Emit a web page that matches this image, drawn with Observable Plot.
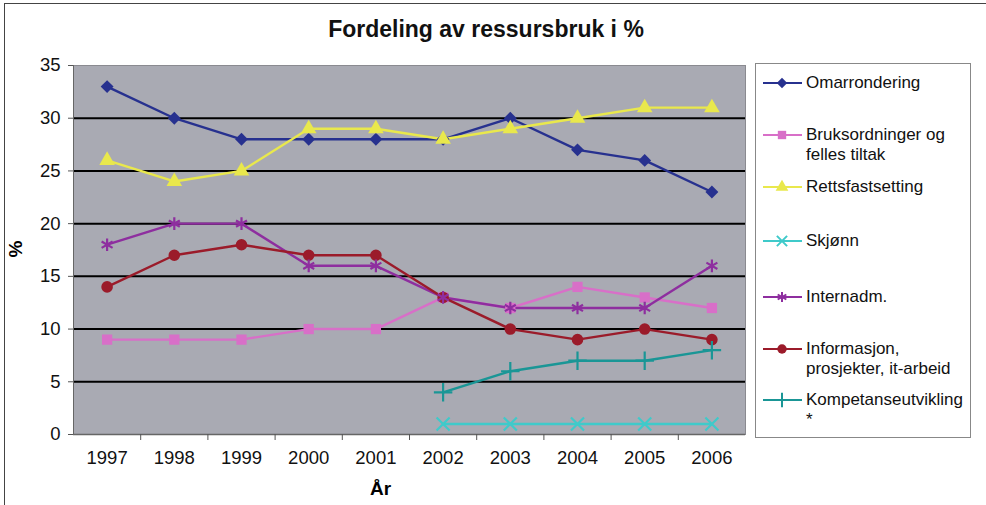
<!DOCTYPE html>
<html><head><meta charset="utf-8">
<script src="https://cdn.jsdelivr.net/npm/d3@7"></script>
<script src="https://cdn.jsdelivr.net/npm/@observablehq/plot@0.6"></script>
<style>
body{margin:0;background:#fff;font-family:"Liberation Sans",Arial,sans-serif;}
#wrap{position:relative;width:986px;height:505px;overflow:hidden;}
#frame{position:absolute;left:4px;top:3px;width:990px;height:510px;border:1.5px solid #444;box-sizing:border-box;}
#title{position:absolute;left:0;width:972px;top:16px;text-align:center;font-weight:bold;font-size:23px;color:#111;}
#chart{position:absolute;left:0;top:0;}
#legend{position:absolute;left:755px;top:63px;width:216px;height:375px;border:1.5px solid #888;box-sizing:border-box;background:#fff;}
.item{position:absolute;left:6px;display:flex;align-items:flex-start;font-size:17px;line-height:20px;color:#111;white-space:nowrap;}
.item svg{flex:none;margin-top:0px;}
.item span{margin-left:4px;}
#ylab{position:absolute;left:8px;top:238px;font-weight:bold;font-size:19px;transform:rotate(-90deg);}
#xlab{position:absolute;left:370px;top:478px;font-weight:bold;font-size:19px;}
</style></head>
<body>
<div id="wrap">
<div id="frame"></div>
<div id="chart"></div>
<div id="title">Fordeling av ressursbruk i %</div>
<div id="ylab">%</div>
<div id="xlab">År</div>
<div id="legend"></div>
</div>
<script>
const years = [1997,1998,1999,2000,2001,2002,2003,2004,2005,2006];
const seriesNames = ["Omarrondering","Bruksordninger og felles tiltak","Rettsfastsetting","Skjønn","Internadm.","Informasjon, prosjekter, it-arbeid","Kompetanseutvikling *"];
const omarrondering   = [33,30,28,28,28,28,30,27,26,23];
const bruksordninger  = [9,9,9,10,10,13,12,14,13,12];
const rettsfastsetting= [26,24,25,29,29,28,29,30,31,31];
const skjonn          = [null,null,null,null,null,1,1,1,1,1];
const internadm       = [18,20,20,16,16,13,12,12,12,16];
const informasjon     = [14,17,18,17,17,13,10,9,10,9];
const kompetanse      = [null,null,null,null,null,4,6,7,7,8];
const yTicks = [0,5,10,15,20,25,30,35];
const colors  = ["#27318f","#d86fc8","#e9e84c","#3fcaca","#8e2e9f","#9b1b2a","#1a9696"];
const symbols = ["diamond2","square","triangle","times","asterisk","circle","plus"];
const filled  = [true,true,true,false,false,true,false];

const allSeries = [omarrondering,bruksordninger,rettsfastsetting,skjonn,internadm,informasjon,kompetanse];
const data = [];
allSeries.forEach((arr,i)=>arr.forEach((v,j)=>{ if(v!=null) data.push({series:seriesNames[i], year:years[j], value:v, filled:filled[i]}); }));
const boundaries = years.slice(0,-1).map(y=>y+0.5);
const colorScale = {domain:seriesNames, range:colors};

const plot = Plot.plot({
  width:986, height:505,
  marginLeft:73, marginRight:241, marginTop:65, marginBottom:71,
  style:{fontFamily:"'Liberation Sans',Arial,sans-serif", background:"transparent", color:"#111"},
  x:{domain:[1996.5,2006.5]},
  y:{domain:[0,35]},
  color:colorScale,
  symbol:{domain:seriesNames, range:symbols},
  marks:[
    Plot.frame({fill:"#a9aab3", stroke:"#8a8a90"}),
    Plot.gridY([5,10,15,20,25,30], {stroke:"#000", strokeOpacity:1, strokeWidth:2}),
    Plot.axisY({ticks:yTicks, tickSize:5, tickPadding:8, fontSize:18.5, label:null, stroke:"#555"}),
    Plot.ruleX([1996.5], {stroke:"#666"}),
    Plot.ruleY([0], {stroke:"#666", strokeWidth:1.5}),
    Plot.axisX({ticks:years, tickSize:0, tickPadding:16, tickFormat:d=>String(d), fontSize:18.5, label:null}),
    Plot.axisX({ticks:boundaries, tickSize:6, tickFormat:()=>"", label:null, stroke:"#555"}),
    Plot.line(data, {x:"year", y:"value", z:"series", stroke:"series", strokeWidth:2.4}),
    Plot.dot(data.filter(d=>d.filled), {x:"year", y:"value", symbol:"series", fill:"series", r:5.8}),
    Plot.dot(data.filter(d=>!d.filled), {x:"year", y:"value", symbol:"series", stroke:"series", strokeWidth:2.2, r:6})
  ]
});
document.getElementById("chart").appendChild(plot);

// legend
const legendTops = [9, 61, 113, 167, 223, 275, 326];
const labelLines = [["Omarrondering"],["Bruksordninger og","felles tiltak"],["Rettsfastsetting"],["Skjønn"],["Internadm."],["Informasjon,","prosjekter, it-arbeid"],["Kompetanseutvikling","*"]];
const d3sym = {diamond2:d3.symbolDiamond2, square:d3.symbolSquare, triangle:d3.symbolTriangle, times:d3.symbolTimes, asterisk:d3.symbolAsterisk, circle:d3.symbolCircle, plus:d3.symbolPlus};
const leg = d3.select("#legend");
seriesNames.forEach((name,i)=>{
  const item = leg.append("div").attr("class","item").style("top", legendTops[i]+"px");
  const svg = item.append("svg").attr("width",40).attr("height",20);
  svg.append("line").attr("x1",1).attr("x2",40).attr("y1",10).attr("y2",10).attr("stroke",colors[i]).attr("stroke-width",2);
  const p = svg.append("path").attr("transform","translate(20,10)").attr("d", d3.symbol(d3sym[symbols[i]], 70)());
  if(filled[i]) p.attr("fill",colors[i]); else p.attr("fill","none").attr("stroke",colors[i]).attr("stroke-width",2);
  item.append("span").html(labelLines[i].join("<br>"));
});
</script>
</body></html>
